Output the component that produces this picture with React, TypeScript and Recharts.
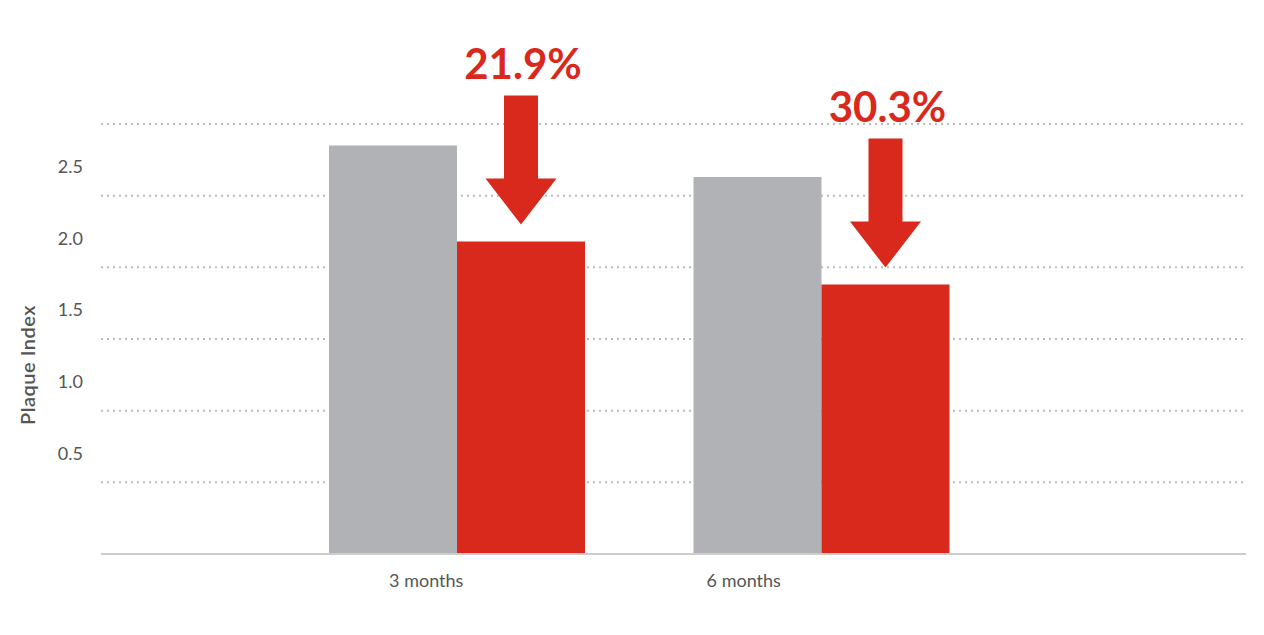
import React from 'react';
import { BarChart, Bar, XAxis, YAxis, CartesianGrid, LabelList } from 'recharts';

const categories = ['3 months', '6 months'];
const controlValues = [2.85, 2.63];
const treatedValues = [2.18, 1.88];
const reductionLabels = ['21.9%', '30.3%'];
const yTicks = [0.5, 1.0, 1.5, 2.0, 2.5, 3.0];
const yLabelTicks = [0.5, 1.0, 1.5, 2.0, 2.5];

const data = categories.map((c, i) => ({
  name: c,
  control: controlValues[i],
  treated: treatedValues[i],
  reduction: reductionLabels[i],
}));

const RED = '#d9291c';
const GRAY = '#b0b2b5';
const TEXT = '#555555';
const FONT = 'Lato, "Open Sans", sans-serif';
const X_TICK_DX = [-31, -78];

const YTick = (props: any) => {
  const { x, y, payload } = props;
  if (!yLabelTicks.includes(payload.value)) return null;
  return (
    <text x={x} y={y - 29} dy="0.355em" textAnchor="end" fontSize={18} fill={TEXT} fontFamily={FONT}>
      {Number(payload.value).toFixed(1)}
    </text>
  );
};

const XTick = (props: any) => {
  const { x, y, payload, index } = props;
  return (
    <text x={x + (X_TICK_DX[index] ?? 0)} y={y + 33} textAnchor="middle" fontSize={18} fill={TEXT} fontFamily={FONT}>
      {payload.value}
    </text>
  );
};

const ArrowLabel = (props: any) => {
  const { x, y, width, value } = props;
  const cx = x + width / 2;
  const tip = y - 17;
  const headBase = y - 63;
  const shaftTop = y - 146;
  const sw = 17;
  const hw = 35.5;
  const d = `M${cx - sw},${shaftTop} L${cx + sw},${shaftTop} L${cx + sw},${headBase} L${cx + hw},${headBase} L${cx},${tip} L${cx - hw},${headBase} L${cx - sw},${headBase} Z`;
  return (
    <g>
      <path d={d} fill={RED} />
      <text x={cx + 2} y={y - 163} textAnchor="middle" fontSize={42} fontWeight={700} fill={RED} fontFamily={FONT}>
        {value}
      </text>
    </g>
  );
};

const YLabel = (props: any) => {
  const { viewBox } = props;
  const x = viewBox.x + 27;
  const y = viewBox.y + viewBox.height / 2 + 26;
  return (
    <text x={x} y={y} transform={`rotate(-90, ${x}, ${y})`} textAnchor="middle" dominantBaseline="central" fontSize={20} fontWeight={600} letterSpacing={0.5} fill={TEXT} fontFamily={FONT}>
      Plaque Index
    </text>
  );
};

export default function App() {
  return (
    <div style={{ position: 'absolute', left: 0, top: 0, width: 1264, height: 635, background: '#fff' }}>
      <BarChart
        width={1264}
        height={635}
        data={data}
        margin={{ top: 124, right: 18, left: 0, bottom: 41 }}
        barGap={0}
      >
        <CartesianGrid horizontal vertical={false} stroke="#bdbdbd" strokeWidth={2} strokeDasharray="2 4" />
        <XAxis
          dataKey="name"
          height={40}
          padding={{ left: 174, right: 242 }}
          axisLine={{ stroke: '#cccccc', strokeWidth: 2 }}
          tickLine={false}
          tickSize={0}
          tickMargin={0}
          tick={<XTick />}
          interval={0}
        />
        <YAxis
          width={101}
          domain={[0, 3]}
          ticks={yTicks}
          axisLine={false}
          tickLine={false}
          tickSize={0}
          tickMargin={18}
          tick={<YTick />}
          interval={0}
          label={<YLabel />}
        />
        <Bar dataKey="control" fill={GRAY} barSize={128} isAnimationActive={false} />
        <Bar dataKey="treated" fill={RED} barSize={128} isAnimationActive={false}>
          <LabelList dataKey="reduction" content={<ArrowLabel />} />
        </Bar>
      </BarChart>
    </div>
  );
}
